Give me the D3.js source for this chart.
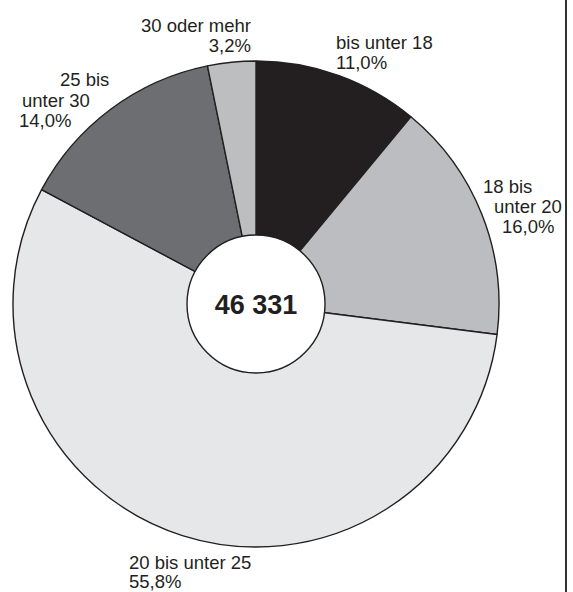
<!DOCTYPE html>
<html>
<head>
<meta charset="utf-8">
<script src="https://cdn.jsdelivr.net/npm/d3@7"></script>
<style>
  html, body { margin: 0; padding: 0; background: #fff; }
  svg { display: block; }
  text { font-family: "Liberation Sans", Arial, Helvetica, sans-serif; fill: #231f20; }
</style>
</head>
<body>
<svg id="chart" width="573" height="592"></svg>
<script>
// Altersgruppen (Anteil in %), im Uhrzeigersinn ab 12 Uhr
const categories = ["bis unter 18", "18 bis unter 20", "20 bis unter 25", "25 bis unter 30", "30 oder mehr"];
const shares = [11.0, 16.0, 55.8, 14.0, 3.2];
const shareLabels = ["11,0%", "16,0%", "55,8%", "14,0%", "3,2%"];
const total = "46 331";
const fills = ["#231f20", "#bcbdc0", "#e6e7e8", "#6d6e71", "#bcbec0"];

// Label lines per slice with their placement (x, baseline y, anchor)
const labelLines = [
  [{t: "bis unter 18", x: 336, y: 49, a: "start"}, {t: shareLabels[0], x: 336, y: 69, a: "start"}],
  [{t: "18 bis", x: 483, y: 193, a: "start"}, {t: "unter 20", x: 494, y: 213, a: "start"}, {t: shareLabels[1], x: 502, y: 233, a: "start"}],
  [{t: "20 bis unter 25", x: 129, y: 569, a: "start"}, {t: shareLabels[2], x: 129, y: 588, a: "start"}],
  [{t: "25 bis", x: 60, y: 86, a: "start"}, {t: "unter 30", x: 22, y: 107, a: "start"}, {t: shareLabels[3], x: 19, y: 127, a: "start"}],
  [{t: "30 oder mehr", x: 251, y: 32, a: "end"}, {t: shareLabels[4], x: 251, y: 52, a: "end"}]
];

const svg = d3.select("#chart");
const cx = 256, cy = 304, R = 243, hole = 69;

const pie = d3.pie().sort(null).value(d => d);
const arc = d3.arc().innerRadius(0).outerRadius(R);

const g = svg.append("g").attr("transform", `translate(${cx},${cy})`);

g.selectAll("path.slice")
  .data(pie(shares))
  .join("path")
  .attr("class", "slice")
  .attr("d", arc)
  .attr("fill", (d, i) => fills[i])
  .attr("stroke", "#231f20")
  .attr("stroke-width", 1.4)
  .attr("stroke-linejoin", "round");

// centre disc with the total
g.append("circle")
  .attr("r", hole)
  .attr("fill", "#fff")
  .attr("stroke", "#231f20")
  .attr("stroke-width", 1.4);

g.append("text")
  .attr("text-anchor", "middle")
  .attr("dy", "0.36em")
  .attr("font-size", 27)
  .attr("font-weight", "bold")
  .text(total);

// slice labels
const lab = svg.append("g").attr("font-size", 18.5);
labelLines.forEach(lines => {
  lines.forEach(l => {
    lab.append("text")
      .attr("x", l.x)
      .attr("y", l.y)
      .attr("text-anchor", l.a)
      .text(l.t);
  });
});

// right frame rule
svg.append("line")
  .attr("x1", 566).attr("x2", 566)
  .attr("y1", 0).attr("y2", 592)
  .attr("stroke", "#333")
  .attr("stroke-width", 2);
</script>
</body>
</html>
